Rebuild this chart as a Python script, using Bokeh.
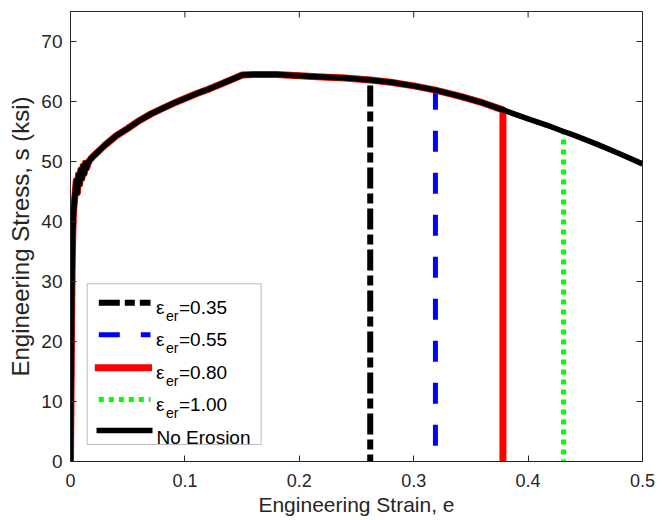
import math
from bokeh.plotting import figure
from bokeh.models import Label, BoxAnnotation, FixedTicker, Range1d
from bokeh.embed import file_html
from bokeh.resources import INLINE

# ---------------- data ----------------
strain = [0.0, 0.0005, 0.001, 0.0015, 0.002, 0.0025, 0.003, 0.004, 0.005, 0.006,
          0.007, 0.008, 0.009, 0.010, 0.011, 0.012, 0.013, 0.014, 0.016, 0.018,
          0.020, 0.025, 0.030, 0.040, 0.050, 0.060, 0.070, 0.080, 0.090, 0.100,
          0.110, 0.120, 0.130, 0.140, 0.150, 0.160, 0.180, 0.200, 0.220, 0.240,
          0.262, 0.280, 0.300, 0.319, 0.340, 0.360, 0.378, 0.400, 0.420, 0.431,
          0.440, 0.460, 0.480, 0.500]
stress = [0.0, 12.0, 24.0, 33.0, 38.0, 41.0, 42.5, 44.5, 46.8, 44.8,
          47.8, 46.2, 48.6, 47.2, 49.2, 48.0, 49.7, 48.9, 50.0, 50.5,
          50.9, 51.8, 52.7, 54.3, 55.5, 56.8, 57.9, 58.8, 59.7, 60.5,
          61.3, 62.0, 62.8, 63.6, 64.4, 64.5, 64.5, 64.3, 64.1, 63.9,
          63.6, 63.2, 62.6, 61.9, 60.9, 59.8, 58.6, 57.1, 55.8, 55.0,
          54.4, 52.9, 51.3, 49.6]

erosion_values = ["0.35", "0.55", "0.80", "1.00"]
failure_strain = [0.262, 0.319, 0.378, 0.431]
failure_stress = [63.6, 61.9, 58.6, 55.0]
no_erosion_label = "No Erosion"

x_ticks = [0, 0.1, 0.2, 0.3, 0.4, 0.5]
x_tick_labels = ["0", "0.1", "0.2", "0.3", "0.4", "0.5"]
y_ticks = [0, 10, 20, 30, 40, 50, 60, 70]
y_tick_labels = ["0", "10", "20", "30", "40", "50", "60", "70"]

x_title = "Engineering Strain, e"
y_title = "Engineering Stress, s (ksi)"

# ---------------- styles ----------------
series_styles = [
    dict(line_color="#000000", line_width=6, line_dash="21 5 10 5"),
    dict(line_color="#0000ff", line_width=5, line_dash="21 21"),
    dict(line_color="#ff0000", line_width=7, line_dash="solid"),
    dict(line_color="#00ff00", line_width=5, line_dash="5 5"),
]
base_style = dict(line_color="#000000", line_width=5.5, line_dash="solid")

AX = "#262626"
SANS = "Liberation Sans"

W, H = 670, 520
X0, X1, Y0, Y1 = 0.0, 0.5, 0.0, 75.0
FL, FR, FT, FB = 70, 642, 11, 461   # frame edges in canvas pixels

p = figure(width=W, height=H, x_range=Range1d(X0, X1), y_range=Range1d(Y0, Y1),
           output_backend="svg", toolbar_location=None,
           min_border_left=FL, min_border_right=W - FR, min_border_top=FT,
           min_border_bottom=H - FB)
p.background_fill_color = "white"
p.border_fill_color = "white"
p.grid.visible = False
p.outline_line_color = AX
p.outline_line_width = 1

for ax, ticks, labels, fs, so in ((p.xaxis[0], x_ticks, x_tick_labels, "18px", 12),
                                  (p.yaxis[0], y_ticks, y_tick_labels, "19px", 8)):
    ax.ticker = FixedTicker(ticks=ticks)
    ax.major_label_overrides = {t: l for t, l in zip(ticks, labels)}
    ax.axis_line_color = AX
    ax.axis_line_width = 1
    ax.major_tick_line_color = AX
    ax.major_tick_in = 6
    ax.major_tick_out = 0
    ax.minor_tick_line_color = None
    ax.major_label_text_font = SANS
    ax.major_label_text_font_size = fs
    ax.major_label_text_color = AX
    ax.major_label_standoff = so
    ax.axis_label_text_font = SANS
    ax.axis_label_text_font_style = "normal"
    ax.axis_label_text_color = AX

p.xaxis[0].axis_label = x_title
p.xaxis[0].axis_label_text_font_size = "21px"
p.xaxis[0].axis_label_standoff = 3
p.yaxis[0].axis_label = y_title
p.yaxis[0].axis_label_text_font_size = "24px"
p.yaxis[0].axis_label_standoff = 4

# ---------------- decoration helpers (canvas pixel -> data) ----------------
def X(px):
    return X0 + (px - FL) / (FR - FL) * (X1 - X0)
def Y(py):
    return Y0 + (FB - py) / (FB - FT) * (Y1 - Y0)
TICK = 6.0
dx_tick = X(FL + TICK) - X(FL)
dy_tick = Y(FB - TICK) - Y(FB)

# mirrored inward ticks on the top and right sides of the box
p.segment(x0=x_ticks, y0=[Y1] * len(x_ticks), x1=x_ticks, y1=[Y1 - dy_tick] * len(x_ticks),
          line_color=AX, line_width=1)
p.segment(x0=[X1] * len(y_ticks), y0=y_ticks, x1=[X1 - dx_tick] * len(y_ticks), y1=y_ticks,
          line_color=AX, line_width=1)

# ---------------- data lines ----------------
for ef, sf, st in zip(failure_strain, failure_stress, series_styles):
    xs = [x for x in strain if x < ef] + [ef, ef]
    ys = [y for x, y in zip(strain, stress) if x < ef] + [sf, 0.0]
    p.line(xs, ys, line_join="round", **st)
p.line(strain, stress, line_join="round", **base_style)

# ---------------- legend ----------------
p.add_layout(BoxAnnotation(left=X(86.7), right=X(260.7), top=Y(283.3), bottom=Y(444.0),
                           fill_color="white", fill_alpha=1.0,
                           line_color=AX, line_width=1))
row_y = [302.3, 334.3, 367.3, 399.0, 430.0]
sample_x = [(98.3, 150.0), (98.3, 150.0), (94.3, 151.5), (98.3, 150.0)]
for i, (val, st) in enumerate(zip(erosion_values, series_styles)):
    ry = row_y[i]
    sx0, sx1 = sample_x[i]
    p.line([X(sx0), X(sx1)], [Y(ry), Y(ry)], level="overlay", **st)
    base = ry + 4.5
    p.add_layout(Label(x=X(155.5), y=Y(base), text="\u03b5", text_font=SANS,
                       text_font_size="19px", text_color="#000000",
                       text_baseline="alphabetic"))
    p.add_layout(Label(x=X(165.5), y=Y(base + 8.5), text="er", text_font=SANS,
                       text_font_size="14px", text_color="#000000",
                       text_baseline="alphabetic"))
    p.add_layout(Label(x=X(178.5), y=Y(base), text="=" + val, text_font=SANS,
                       text_font_size="19px", text_color="#000000",
                       text_baseline="alphabetic"))
p.line([X(96), X(152)], [Y(row_y[4]), Y(row_y[4])], level="overlay", **base_style)
p.add_layout(Label(x=X(156.0), y=Y(437.0), text=no_erosion_label, text_font=SANS,
                   text_font_size="19px", text_color="#000000",
                   text_baseline="alphabetic"))

open("out.html", "w").write(file_html(p, INLINE))
